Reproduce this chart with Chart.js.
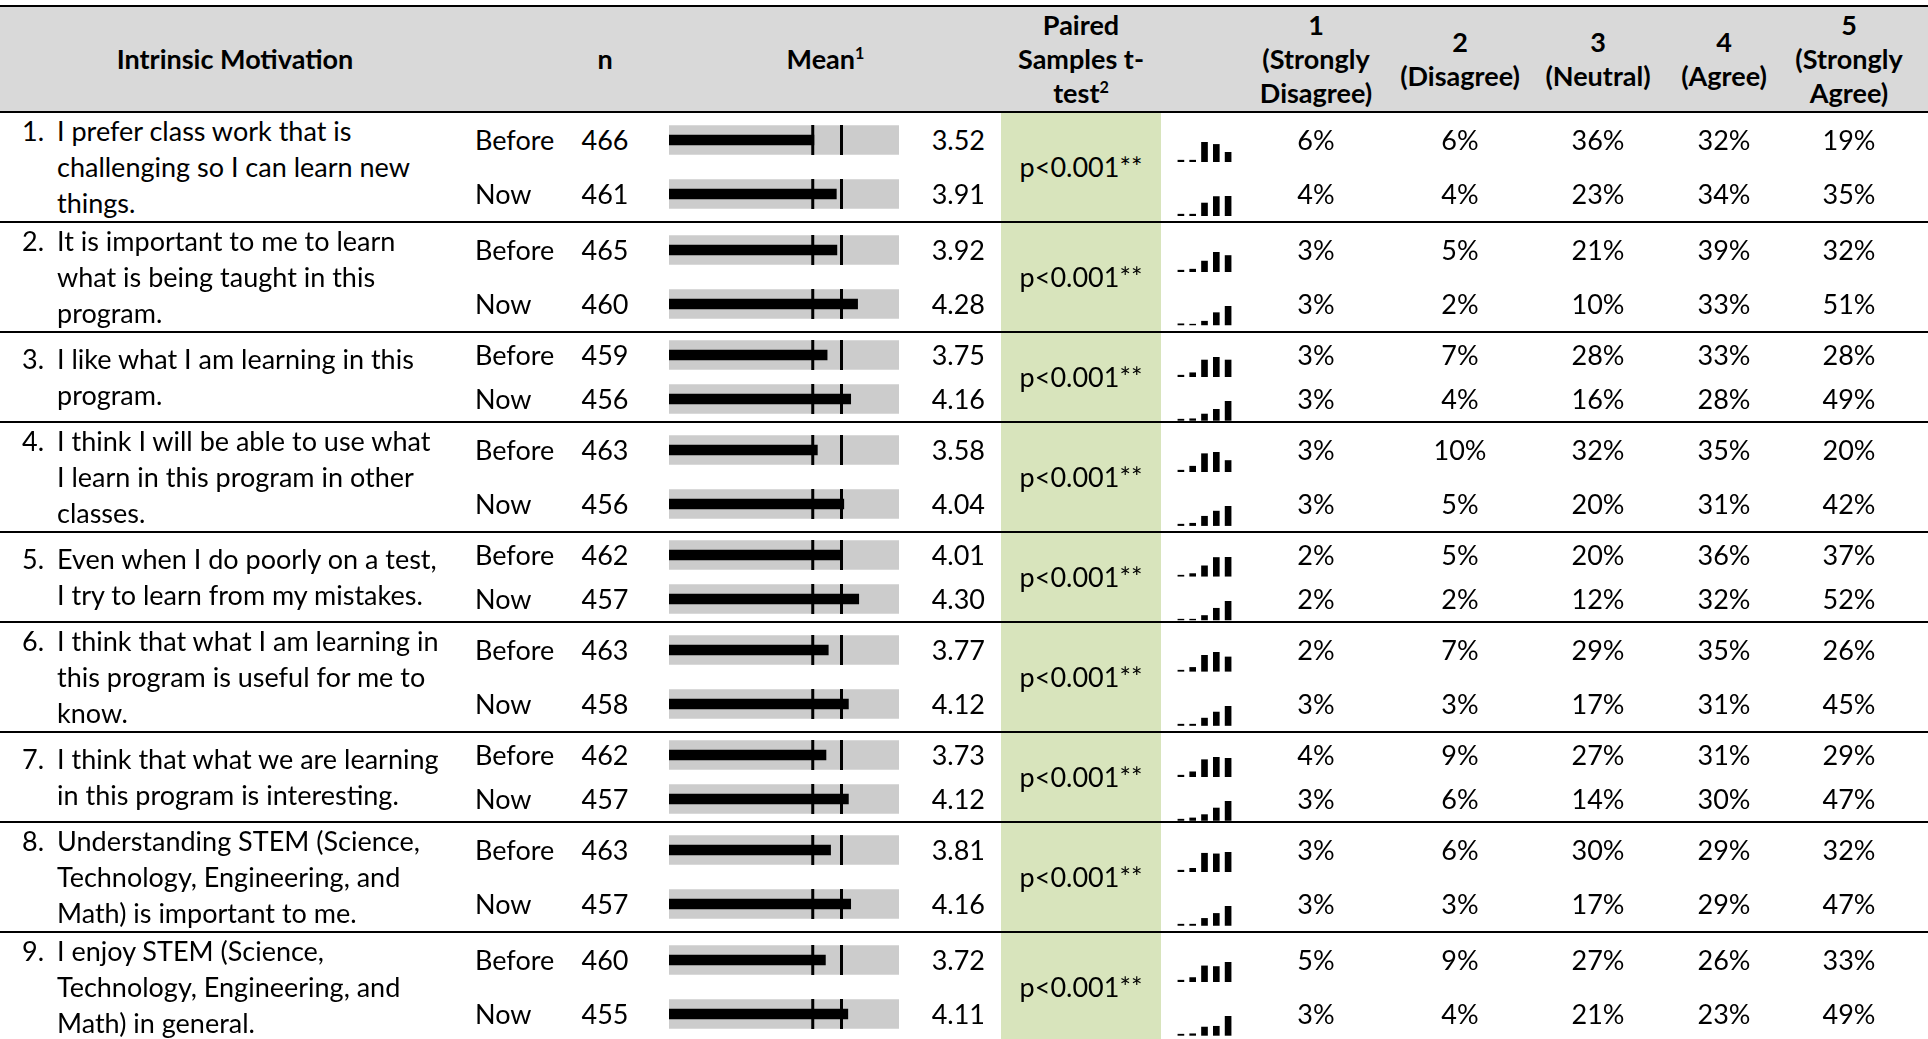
<!DOCTYPE html>
<html>
<head>
<meta charset="utf-8">
<title>Intrinsic Motivation</title>
<script src="https://cdn.jsdelivr.net/npm/chart.js@4.4.0/dist/chart.umd.min.js"></script>
<style>
  html, body { margin: 0; padding: 0; background: #fff; }
  body {
    width: 1928px; height: 1039px; overflow: hidden;
    font-family: "Liberation Sans Narrow", "Arial Narrow", Lato, sans-serif;
    font-size: 27px; color: #000;
  }
  table { border-collapse: collapse; table-layout: fixed; width: 1928px; margin-top: 5px; }
  th {
    background: #d9d9d9; font-weight: bold; line-height: 34px; height: 104px;
    padding: 0; text-align: center; vertical-align: middle;
    border-top: 2px solid #000; border-bottom: 2px solid #000;
  }
  th sup { font-size: 60%; line-height: 0; }
  td { padding: 0; vertical-align: middle; white-space: nowrap; line-height: 30px; }
  td.end { border-bottom: 2px solid #000; }
  .qw { display: flex; line-height: 36px; padding-left: 22px; }
  .qw .num { width: 35px; flex: none; }
  .lab { padding-left: 5px; }
  .n { text-align: center; }
  .bul { padding-left: 18px; }
  .bul canvas, .sp canvas { display: block; }
  .mv { text-align: right; padding-right: 16px; }
  .p { background: #d8e4bc; text-align: center; }
  .sp { padding-left: 14px; }
  .spw { height: 44px; padding-top: 24px; box-sizing: border-box; }
  .pc { text-align: center; }
  .pc.last, th.last { padding-right: 20px; }
</style>
</head>
<body>
<table id="tbl">
  <colgroup>
    <col style="width:470px"><col style="width:90px"><col style="width:90px">
    <col style="width:265px"><col style="width:86px"><col style="width:160px">
    <col style="width:89px"><col style="width:132px"><col style="width:156px">
    <col style="width:120px"><col style="width:132px"><col style="width:138px">
  </colgroup>
  <thead id="head"></thead>
  <tbody id="body"></tbody>
</table>
<script>
// survey items, one array of wrapped lines per statement
const questions = [
  ["I prefer class work that is", "challenging so I can learn new", "things."],
  ["It is important to me to learn", "what is being taught in this", "program."],
  ["I like what I am learning in this", "program."],
  ["I think I will be able to use what", "I learn in this program in other", "classes."],
  ["Even when I do poorly on a test,", "I try to learn from my mistakes."],
  ["I think that what I am learning in", "this program is useful for me to", "know."],
  ["I think that what we are learning", "in this program is interesting."],
  ["Understanding STEM (Science,", "Technology, Engineering, and", "Math) is important to me."],
  ["I enjoy STEM (Science,", "Technology, Engineering, and", "Math) in general."]
];
const groups = ["Before", "Now"];

const nBefore = [466, 465, 459, 463, 462, 463, 462, 463, 460];
const nNow    = [461, 460, 456, 456, 457, 458, 457, 457, 455];

const meanBefore = [3.52, 3.92, 3.75, 3.58, 4.01, 3.77, 3.73, 3.81, 3.72];
const meanNow    = [3.91, 4.28, 4.16, 4.04, 4.30, 4.12, 4.12, 4.16, 4.11];

const pValues = ["p<0.001**", "p<0.001**", "p<0.001**", "p<0.001**", "p<0.001**",
                 "p<0.001**", "p<0.001**", "p<0.001**", "p<0.001**"];

// response distribution (%) for options 1..5
const pctBefore = [
  [6, 6, 36, 32, 19], [3, 5, 21, 39, 32], [3, 7, 28, 33, 28],
  [3, 10, 32, 35, 20], [2, 5, 20, 36, 37], [2, 7, 29, 35, 26],
  [4, 9, 27, 31, 29], [3, 6, 30, 29, 32], [5, 9, 27, 26, 33]
];
const pctNow = [
  [4, 4, 23, 34, 35], [3, 2, 10, 33, 51], [3, 4, 16, 28, 49],
  [3, 5, 20, 31, 42], [2, 2, 12, 32, 52], [3, 3, 17, 31, 45],
  [3, 6, 14, 30, 47], [3, 3, 17, 29, 47], [3, 4, 21, 23, 49]
];

const likertCodes = ["1", "2", "3", "4", "5"];
const likertHead = [
  ["1", "(Strongly", "Disagree)"], ["2", "(Disagree)"], ["3", "(Neutral)"],
  ["4", "(Agree)"], ["5", "(Strongly", "Agree)"]
];
const scaleMin = 1, scaleMax = 5;
const refLines = [3.5, 4.0];

// header
let h = '<tr><th>Intrinsic Motivation</th><th></th><th>n</th>' +
        '<th colspan="2">Mean<sup>1</sup></th>' +
        '<th>Paired<br>Samples t-<br>test<sup>2</sup></th><th></th>';
likertHead.forEach((lines, k) => {
  h += `<th class="${k === 4 ? 'last' : ''}">${lines.join('<br>')}</th>`;
});
h += '</tr>';
document.getElementById('head').innerHTML = h;

// body rows: each statement gets a Before and a Now line
let b = '';
questions.forEach((lines, i) => {
  const rowH = lines.length > 2 ? 55 : 45;
  [0, 1].forEach(g => {
    const end = g === 1 ? ' end' : '';
    const n = g ? nNow[i] : nBefore[i];
    const m = g ? meanNow[i] : meanBefore[i];
    const pct = g ? pctNow[i] : pctBefore[i];
    b += `<tr style="height:${rowH}px">`;
    if (g === 0) {
      b += `<td rowspan="2" class="end"><div class="qw"><span class="num">${i + 1}.</span>` +
           `<span>${lines.join('<br>')}</span></div></td>`;
    }
    b += `<td class="lab${end}">${groups[g]}</td>`;
    b += `<td class="n${end}">${n}</td>`;
    b += `<td class="bul${end}"><canvas id="bul-${i}-${g}" width="233" height="40"></canvas></td>`;
    b += `<td class="mv${end}">${m.toFixed(2)}</td>`;
    if (g === 0) b += `<td rowspan="2" class="p end">${pValues[i]}</td>`;
    b += `<td class="sp${end}"><div class="spw"><canvas id="sp-${i}-${g}" width="59" height="20"></canvas></div></td>`;
    pct.forEach((v, k) => {
      b += `<td class="pc${k === 4 ? ' last' : ''}${end}">${v}%</td>`;
    });
    b += '</tr>';
  });
});
document.getElementById('body').innerHTML = b;

// vertical marker lines on the bullet charts
const refLinePlugin = {
  id: 'refLines',
  afterDatasetsDraw(chart) {
    const { ctx, scales: { x, y } } = chart;
    const cy = y.getPixelForValue(0);
    ctx.save();
    ctx.strokeStyle = '#000';
    ctx.lineWidth = 3;
    refLines.forEach(v => {
      const px = x.getPixelForValue(v);
      ctx.beginPath();
      ctx.moveTo(px, cy - 15);
      ctx.lineTo(px, cy + 15);
      ctx.stroke();
    });
    ctx.restore();
  }
};

function bulletChart(id, mean) {
  new Chart(document.getElementById(id), {
    type: 'bar',
    data: {
      labels: [''],
      datasets: [
        { data: [[scaleMin, mean]], backgroundColor: '#000', barThickness: 10, grouped: false, order: 0 },
        { data: [[scaleMin, scaleMax]], backgroundColor: '#cccccc', barThickness: 29, grouped: false, order: 1 }
      ]
    },
    options: {
      indexAxis: 'y',
      responsive: false,
      animation: false,
      events: [],
      layout: { padding: { left: 1, right: 2 } },
      plugins: { legend: { display: false }, tooltip: { enabled: false } },
      scales: {
        x: { display: false, min: scaleMin, max: scaleMax },
        y: { display: false }
      }
    },
    plugins: [refLinePlugin]
  });
}

function sparkChart(id, vals) {
  const lo = Math.min(...vals), hi = Math.max(...vals);
  new Chart(document.getElementById(id), {
    type: 'bar',
    data: {
      labels: likertCodes,
      datasets: [{ data: vals, backgroundColor: '#000', barThickness: 6 }]
    },
    options: {
      responsive: false,
      animation: false,
      events: [],
      plugins: { legend: { display: false }, tooltip: { enabled: false } },
      scales: {
        x: { display: false },
        y: { display: false, min: lo - (hi - lo) * 0.1, max: hi }
      }
    }
  });
}

questions.forEach((_, i) => {
  bulletChart(`bul-${i}-0`, meanBefore[i]);
  bulletChart(`bul-${i}-1`, meanNow[i]);
  sparkChart(`sp-${i}-0`, pctBefore[i]);
  sparkChart(`sp-${i}-1`, pctNow[i]);
});
</script>
</body>
</html>
